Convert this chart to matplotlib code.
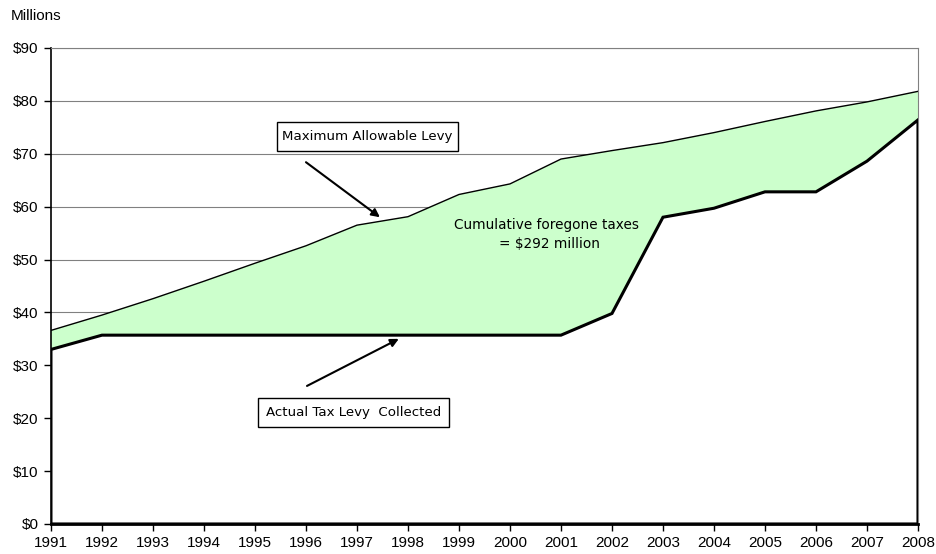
import matplotlib.pyplot as plt
from matplotlib.patches import Rectangle

# Property tax levy, 1991-2008 (millions of dollars)
years = list(range(1991, 2009))
max_levy = [36.6, 39.5, 42.6, 45.9, 49.3, 52.6, 56.5, 58.1, 62.3, 64.3,
            69.0, 70.6, 72.1, 74.0, 76.1, 78.1, 79.8, 81.8]
actual_levy = [33.0, 35.7, 35.7, 35.7, 35.7, 35.7, 35.7, 35.7, 35.7, 35.7,
               35.7, 39.8, 58.0, 59.7, 62.8, 62.8, 68.6, 76.4]
y_ticks = list(range(0, 100, 10))

plt.rcParams['font.family'] = ['Liberation Sans', 'DejaVu Sans']

fig = plt.figure(figsize=(9.37, 5.54), dpi=100)
ax = fig.add_axes([0.0544, 0.0542, 0.9253, 0.8592])

# gridlines
for v in y_ticks[1:]:
    ax.axhline(v, color='#808080', lw=0.8, zorder=1)

# foregone taxes band between actual and maximum
ax.fill_between(years, actual_levy, max_levy, facecolor='#CCFFCC',
                edgecolor='none', zorder=2)
ax.plot(years, max_levy, color='black', lw=1.0, zorder=3)

# actual levy area: white body with heavy outline
xs = [years[0]] + years + [years[-1]]
ys = [0] + actual_levy + [0]
ax.fill(xs, ys, facecolor='white', edgecolor='black', lw=2.2,
        joinstyle='miter', zorder=4)

ax.set_xlim(years[0], years[-1])
ax.set_ylim(0, 90)
ax.set_xticks(years)
ax.set_xticklabels([str(y) for y in years], fontsize=11)
ax.set_yticks(y_ticks)
ax.set_yticklabels([f'${v}' for v in y_ticks], fontsize=11)
ax.tick_params(direction='out', length=5, width=1, color='black', pad=4)

for side in ['top', 'right']:
    ax.spines[side].set_color('#808080')
    ax.spines[side].set_linewidth(0.8)
ax.spines['left'].set_linewidth(1.2)
ax.spines['bottom'].set_linewidth(2.0)
ax.spines['bottom'].set_zorder(5)

fig.text(0.012, 0.972, 'Millions', fontsize=11, ha='left', va='center')


def label_box(x0, x1, y0, y1, text, size):
    ax.add_patch(Rectangle((x0, y0), x1 - x0, y1 - y0, facecolor='white',
                           edgecolor='black', lw=1, zorder=6))
    ax.text((x0 + x1) / 2, (y0 + y1) / 2, text, fontsize=size, ha='center',
            va='center', family=['DejaVu Sans'], zorder=7)


label_box(1995.43, 1998.98, 70.5, 76.0, 'Maximum Allowable Levy', 9.6)
label_box(1995.06, 1998.80, 18.3, 23.8, 'Actual Tax Levy  Collected', 9.6)

ax.text(2000.72, 56.5, 'Cumulative foregone taxes', fontsize=9.8,
        ha='center', va='center', family=['DejaVu Sans'], zorder=6)
ax.text(2000.78, 52.9, '= $292 million', fontsize=9.8,
        ha='center', va='center', family=['DejaVu Sans'], zorder=6)

arrow = dict(arrowstyle='-|>', color='black', lw=1.5, mutation_scale=12,
             shrinkA=0, shrinkB=0)
ax.annotate('', xy=(1997.45, 58.0), xytext=(1996.0, 68.4), arrowprops=arrow, zorder=6)
ax.annotate('', xy=(1997.82, 35.0), xytext=(1996.02, 26.1), arrowprops=arrow, zorder=6)

fig.savefig('out.png', dpi=100)
